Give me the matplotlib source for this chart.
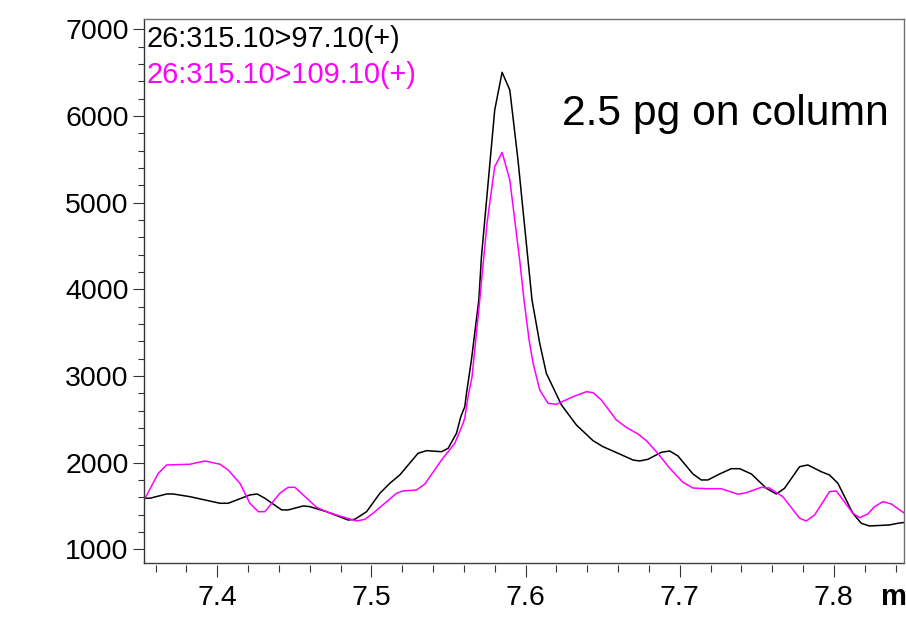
import numpy as np
import matplotlib
matplotlib.use('Agg')
import matplotlib.pyplot as plt
from matplotlib.lines import Line2D
from matplotlib.ticker import MultipleLocator

plt.rcParams['font.family'] = ['Liberation Sans', 'DejaVu Sans']

# 26:315.10>97.10(+)  (black trace)
t_97 = [7.352, 7.3564, 7.3672, 7.3715, 7.3823, 7.4018, 7.4071, 7.4212, 7.4259, 7.4309,
        7.4418, 7.4460, 7.4558, 7.4601, 7.4709, 7.4849, 7.4893, 7.4969, 7.5055, 7.5120,
        7.5184, 7.5303, 7.5358, 7.5455, 7.5498, 7.5552, 7.5580, 7.5606, 7.5617, 7.5649,
        7.5697, 7.5714, 7.5800, 7.5848, 7.5898, 7.5951, 7.6042, 7.6092, 7.6135, 7.6233,
        7.6330, 7.6438, 7.6502, 7.6611, 7.6697, 7.6740, 7.6794, 7.6881, 7.6935, 7.6989,
        7.7086, 7.7140, 7.7183, 7.7259, 7.7335, 7.7389, 7.7465, 7.7562, 7.7627, 7.7680,
        7.7778, 7.7831, 7.7918, 7.7972, 7.8026, 7.8123, 7.8178, 7.8231, 7.8361, 7.8415,
        7.8465]
i_97 = [1591, 1591, 1640, 1640, 1609, 1533, 1533, 1629, 1640, 1591,
        1456, 1456, 1502, 1494, 1436, 1340, 1348, 1436, 1648, 1764,
        1859, 2110, 2140, 2128, 2167, 2340, 2532, 2647, 2802, 3186,
        3878, 4377, 6069, 6504, 6300, 5493, 3878, 3378, 3032, 2667,
        2436, 2255, 2186, 2101, 2032, 2021, 2040, 2121, 2136, 2078,
        1871, 1802, 1802, 1871, 1932, 1932, 1871, 1706, 1640, 1706,
        1955, 1975, 1897, 1859, 1764, 1418, 1302, 1271, 1283, 1302,
        1314]

# 26:315.10>109.10(+)  (magenta trace)
t_109 = [7.352, 7.3618, 7.3672, 7.3823, 7.3920, 7.4018, 7.4071, 7.4147, 7.4212, 7.4266,
         7.4309, 7.4406, 7.4460, 7.4504, 7.4644, 7.4709, 7.4795, 7.4904, 7.4958, 7.5011,
         7.5163, 7.5206, 7.5293, 7.5347, 7.5455, 7.5541, 7.5595, 7.5606, 7.5627, 7.5653,
         7.5703, 7.5750, 7.5800, 7.5848, 7.5898, 7.5962, 7.5990, 7.6023, 7.6049, 7.6092,
         7.6146, 7.6200, 7.6308, 7.6395, 7.6438, 7.6492, 7.6589, 7.6654, 7.6729, 7.6784,
         7.6849, 7.6935, 7.7021, 7.7086, 7.7173, 7.7270, 7.7378, 7.7432, 7.7529, 7.7583,
         7.7669, 7.7778, 7.7821, 7.7875, 7.7972, 7.8016, 7.8123, 7.8167, 7.8220, 7.8264,
         7.8318, 7.8372, 7.8465]
i_109 = [1551, 1879, 1975, 1983, 2021, 1983, 1917, 1764, 1533, 1436,
         1436, 1648, 1717, 1717, 1487, 1436, 1386, 1329, 1348, 1418,
         1648, 1675, 1686, 1755, 2032, 2225, 2456, 2517, 2762, 2993,
         3878, 4762, 5415, 5581, 5262, 4339, 3878, 3416, 3148, 2840,
         2686, 2675, 2762, 2820, 2809, 2724, 2494, 2409, 2332, 2255,
         2128, 1937, 1775, 1709, 1701, 1701, 1637, 1655, 1717, 1709,
         1609, 1360, 1329, 1398, 1667, 1675, 1418, 1367, 1409, 1494,
         1551, 1525, 1409]

W, H = 906, 619
fig = plt.figure(figsize=(W / 100, H / 100), dpi=100)
ax = fig.add_axes([144 / W, 1 - 563 / H, (904 - 144) / W, (563 - 19) / H])

ax.plot(t_97, i_97, color='black', lw=1.1)
ax.plot(t_109, i_109, color='#ff00ff', lw=1.1)

ax.set_xlim(7.3525, 7.8455)
ax.set_ylim(844, 7119)

ax.xaxis.set_major_locator(MultipleLocator(0.1))
ax.xaxis.set_minor_locator(MultipleLocator(0.02))
ax.yaxis.set_major_locator(MultipleLocator(1000))
ax.yaxis.set_minor_locator(MultipleLocator(200))
ax.set_xticks([7.4, 7.5, 7.6, 7.7, 7.8])
ax.set_xticklabels(['7.4', '7.5', '7.6', '7.7', '7.8'])

ax.tick_params(axis='y', which='major', length=8, width=0.8, pad=3, labelsize=20.5, color='#333333')
ax.tick_params(axis='y', which='minor', length=4, width=0.8, color='#333333')
ax.tick_params(axis='x', which='major', length=8.5, width=0.8, pad=6, labelsize=20.5, color='#333333')
ax.tick_params(axis='x', which='minor', length=5, width=0.8, color='#333333')

# frame: ticks sit a little below the bottom line
ax.spines['bottom'].set_position(('outward', 1.5))
ax.spines['bottom'].set_visible(False)
ax.add_line(Line2D([0, 1], [0, 0], transform=ax.transAxes, color='#404040', lw=1.0, clip_on=False))
ax.spines['left'].set_color('#333333')
ax.spines['top'].set_color('#707070')
ax.spines['right'].set_color('#707070')
for s in ['left', 'top', 'right']:
    ax.spines[s].set_linewidth(1.0)

fig.text(146 / W, 1 - 46.7 / H, '26:315.10>97.10(+)', color='black', fontsize=20.8, va='baseline')
fig.text(146 / W, 1 - 83.3 / H, '26:315.10>109.10(+)', color='#ff00ff', fontsize=20.8, va='baseline')
fig.text(562 / W, 1 - 125 / H, '2.5 pg on column', color='black', fontsize=30.7, va='baseline')
fig.text(881 / W, 1 - 605 / H, 'min', color='black', fontsize=21, fontweight='bold', va='baseline')

fig.savefig('out.png', dpi=100)
